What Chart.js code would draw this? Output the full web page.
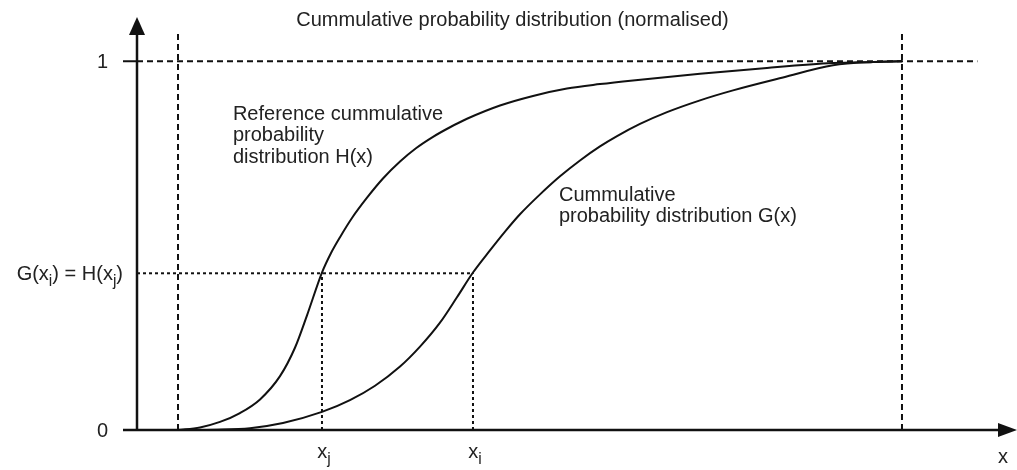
<!DOCTYPE html>
<html>
<head>
<meta charset="utf-8">
<script src="https://cdn.jsdelivr.net/npm/chart.js@4.4.1/dist/chart.umd.min.js"></script>
<style>
	html, body { margin: 0; padding: 0; background: #fff; }
	#wrap { width: 1017px; height: 470px; position: relative; }
</style>
</head>
<body>
<div id="wrap"><canvas id="myChart"></canvas></div>
<script>
// reference curve H(x)
var hX = [4.66, 7.16, 9.43, 11.70, 13.98, 16.25, 17.95, 19.32, 21.02, 22.05, 23.07, 24.43, 26.14, 27.95, 29.89, 31.70, 33.64, 35.57, 37.5, 41.25, 45.0, 48.86, 52.61, 56.36, 63.98, 71.59, 79.09, 83.64, 86.93];
var hY = [0, 0.007, 0.022, 0.046, 0.083, 0.146, 0.223, 0.311, 0.427, 0.480, 0.523, 0.575, 0.630, 0.682, 0.728, 0.764, 0.795, 0.821, 0.844, 0.880, 0.906, 0.926, 0.938, 0.948, 0.966, 0.982, 0.995, 0.998, 1.0];
// curve G(x)
var gX = [4.66, 9.09, 12.84, 16.59, 21.02, 24.2, 27.05, 29.89, 32.16, 34.43, 36.36, 38.18, 40.11, 41.82, 43.52, 45.8, 48.07, 50.34, 52.61, 54.55, 57.16, 60.23, 63.98, 67.73, 73.41, 79.09, 83.64, 86.93];
var gY = [0, 0.001, 0.005, 0.019, 0.049, 0.081, 0.120, 0.172, 0.226, 0.291, 0.360, 0.427, 0.487, 0.538, 0.585, 0.639, 0.688, 0.731, 0.769, 0.797, 0.830, 0.862, 0.894, 0.921, 0.956, 0.989, 0.998, 1.0];

// guide positions
var xStart = 4.66, xEnd = 86.93, xj = 21.02, xi = 38.18, level = 0.425;
var guideTop = 1.079, oneLineEnd = 95.5;

// tick labels
var yTickValues = [0, level, 1];
var yTickLabels = ['0', 'G(x_i) = H(x_j)', '1'];
var xTickValues = [xj, xi];
var xTickLabels = ['x_j', 'x_i'];

var titleText = 'Cummulative probability distribution (normalised)';
var hLabel = ['Reference cummulative', 'probability', 'distribution H(x)'];
var gLabel = ['Cummulative', 'probability distribution G(x)'];

var FONT = '"Liberation Sans", Arial, sans-serif';
var FS = 20;
var INK = '#111';

function pts(xs, ys) {
	return xs.map(function(x, i){ return {x: x, y: ys[i]}; });
}

function guide(data, dash) {
	return {
		data: data,
		borderColor: INK,
		borderWidth: 2,
		borderDash: dash,
		pointRadius: 0,
		tension: 0,
		showLine: true
	};
}

// "x_i" -> x with subscript i
function richParts(str) {
	var parts = [], re = /_(\w)/g, last = 0, m;
	while ((m = re.exec(str))) {
		if (m.index > last) parts.push({t: str.slice(last, m.index), sub: false});
		parts.push({t: m[1], sub: true});
		last = re.lastIndex;
	}
	if (last < str.length) parts.push({t: str.slice(last), sub: false});
	return parts;
}

function drawRich(ctx, str, x, y, align) {
	var parts = richParts(str), w = 0;
	parts.forEach(function(p){
		ctx.font = (p.sub ? FS * 0.78 : FS) + 'px ' + FONT;
		p.w = ctx.measureText(p.t).width;
		w += p.w;
	});
	var cx = align === 'right' ? x - w : (align === 'center' ? x - w / 2 : x);
	ctx.textAlign = 'left';
	ctx.textBaseline = 'middle';
	parts.forEach(function(p){
		ctx.font = (p.sub ? FS * 0.78 : FS) + 'px ' + FONT;
		ctx.fillText(p.t, cx, p.sub ? y + FS * 0.38 : y);
		cx += p.w;
	});
}

var axesPlugin = {
	id: 'axesPlugin',
	afterDatasetsDraw: function(chart) {
		var ctx = chart.ctx, xs = chart.scales.x, ys = chart.scales.y;
		var x0 = xs.getPixelForValue(0), y0 = ys.getPixelForValue(0);
		var xTip = xs.getPixelForValue(xs.max), yTip = ys.getPixelForValue(ys.max);
		ctx.save();
		ctx.strokeStyle = INK;
		ctx.fillStyle = INK;
		ctx.lineWidth = 2.5;
		ctx.setLineDash([]);
		// y axis + arrow
		ctx.beginPath();
		ctx.moveTo(x0, y0);
		ctx.lineTo(x0, yTip + 12);
		ctx.stroke();
		ctx.beginPath();
		ctx.moveTo(x0, yTip);
		ctx.lineTo(x0 - 8, yTip + 18);
		ctx.lineTo(x0 + 8, yTip + 18);
		ctx.closePath();
		ctx.fill();
		// x axis + arrow
		ctx.beginPath();
		ctx.moveTo(x0 - 14, y0);
		ctx.lineTo(xTip - 12, y0);
		ctx.stroke();
		ctx.beginPath();
		ctx.moveTo(xTip, y0);
		ctx.lineTo(xTip - 19, y0 - 7);
		ctx.lineTo(xTip - 19, y0 + 7);
		ctx.closePath();
		ctx.fill();
		// tick at 1
		ctx.lineWidth = 2;
		ctx.beginPath();
		ctx.moveTo(x0 - 14, ys.getPixelForValue(1));
		ctx.lineTo(x0, ys.getPixelForValue(1));
		ctx.stroke();

		ctx.fillStyle = '#222';
		// y tick labels
		yTickValues.forEach(function(v, i){
			var off = (v === level) ? 14 : 29;
			drawRich(ctx, yTickLabels[i], x0 - off, ys.getPixelForValue(v) + 1, 'right');
		});
		// x tick labels
		xTickValues.forEach(function(v, i){
			drawRich(ctx, xTickLabels[i], xs.getPixelForValue(v) + 2, y0 + 22, 'center');
		});
		drawRich(ctx, 'x', xTip - 14, y0 + 27, 'center');

		// title
		drawRich(ctx, titleText, chart.width / 2 + 4, 20, 'center');

		// curve labels
		var lh = 21.5;
		hLabel.forEach(function(t, i){
			drawRich(ctx, t, xs.getPixelForValue(10.9), ys.getPixelForValue(0.856) + i * lh, 'left');
		});
		gLabel.forEach(function(t, i){
			drawRich(ctx, t, xs.getPixelForValue(47.95), ys.getPixelForValue(0.637) + i * lh, 'left');
		});
		ctx.restore();
	}
};

var ctx = document.getElementById('myChart').getContext('2d');
var myChart = new Chart(ctx, {
	type: 'scatter',
	data: {
		datasets: [
			guide([{x: xStart, y: 0}, {x: xStart, y: guideTop}], [6, 4]),
			guide([{x: xEnd, y: 0}, {x: xEnd, y: guideTop}], [6, 4]),
			guide([{x: 0, y: 1}, {x: oneLineEnd, y: 1}], [6, 4]),
			guide([{x: 0, y: level}, {x: xi, y: level}], [3, 3]),
			guide([{x: xj, y: 0}, {x: xj, y: level}], [3, 3]),
			guide([{x: xi, y: 0}, {x: xi, y: level}], [3, 3]),
			{
				label: 'H(x)',
				data: pts(hX, hY),
				showLine: true,
				borderColor: INK,
				borderWidth: 2,
				pointRadius: 0,
				cubicInterpolationMode: 'monotone'
			},
			{
				label: 'G(x)',
				data: pts(gX, gY),
				showLine: true,
				borderColor: INK,
				borderWidth: 2,
				pointRadius: 0,
				cubicInterpolationMode: 'monotone'
			}
		]
	},
	options: {
		responsive: true,
		maintainAspectRatio: false,
		animation: false,
		layout: {
			padding: { left: 137, right: 0, top: 17, bottom: 40 }
		},
		scales: {
			x: { type: 'linear', min: 0, max: 100, display: false },
			y: { type: 'linear', min: 0, max: 1.12, display: false }
		},
		plugins: {
			legend: { display: false },
			tooltip: { enabled: false }
		}
	},
	plugins: [axesPlugin]
});
</script>
</body>
</html>
